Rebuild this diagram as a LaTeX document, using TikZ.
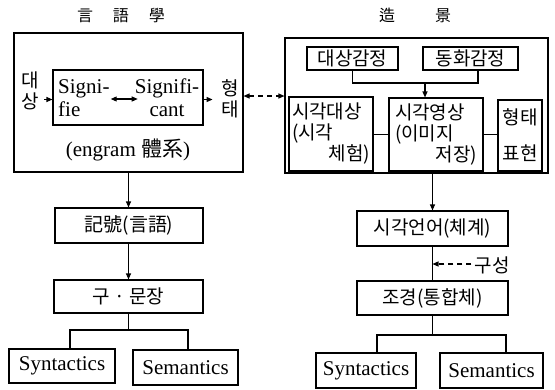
\documentclass[tikz,border=0pt]{standalone}
\usepackage{fontspec}
\setmainfont{Liberation Serif}
\newfontfamily\kr{Noto Sans CJK KR}
\usetikzlibrary{arrows.meta}

\tikzset{
  box/.style={draw, line width=1.1pt, inner sep=0pt},
  lat/.style={font=\fontsize{21}{23}\selectfont},
  kor/.style={font=\kr\fontsize{19}{21}\selectfont},
  ttl/.style={font=\kr\fontsize{16}{18}\selectfont},
  wire/.style={line width=1.1pt},
  arr/.style={wire, -{Triangle[length=6pt,width=5pt]}},
  darr/.style={wire, {Triangle[length=6pt,width=5pt]}-{Triangle[length=6pt,width=5pt]}},
  dash line/.style={wire, dash pattern=on 5pt off 4pt},
}

\begin{document}
\begin{tikzpicture}[x=1pt, y=-1pt]
\useasboundingbox (0,0) rectangle (555,389);

% ---------- left column: linguistics ----------
\node[ttl] (tL) at (121,15) {言\hspace{20pt}語\hspace{20pt}學};

\node[box, minimum width=229pt, minimum height=139pt] (Lout) at (128.5,102.5) {};
\node[box, minimum width=150pt, minimum height=55pt] (inner) at (128,97.5) {};
\node[lat, align=left, anchor=west, inner sep=0pt] (sigA) at (58,98) {Signi-\\fie};
\node[lat, align=center, inner sep=0pt] (sigB) at (167,98) {Signifi-\\cant};
\draw[darr] ([xshift=1pt,yshift=-1pt]sigA.east) -- ([xshift=3pt,yshift=-1pt]sigB.west);

\node[kor, align=center, inner sep=0pt] (dae) at (30,91) {대\\상};
\node[kor, align=center, inner sep=0pt] (hyeong) at (230,99) {형\\태};
\draw[arr] ([xshift=-8pt,yshift=-2pt]inner.west) -- ([yshift=-2pt]inner.west);
\draw[arr] ([yshift=-2pt]inner.east) -- ([xshift=9pt,yshift=-2pt]inner.east);

\node[lat, inner sep=0pt] (engram) at (128,150) {(engram {\kr 體系})};

\node[box, kor, minimum width=148pt, minimum height=35pt] (kiho) at (129,225.5) {記號(言語)};
\node[box, kor, minimum width=149pt, minimum height=33pt] (gu) at (128.5,296.5) {구 · 문장};
\draw[arr] (Lout.south) -- (Lout.south |- kiho.north);
\draw[arr] (kiho.south -| gu.north) -- (gu.north);

\node[box, lat, minimum width=106pt, minimum height=34pt] (synL) at (62,366) {Syntactics};
\node[box, lat, minimum width=105pt, minimum height=35pt] (semL) at (185.5,367.5) {Semantics};
\coordinate (tl) at (70,330);
\coordinate (tr) at (188,330);
\draw[wire] (gu.south) -- (gu.south |- tl);
\draw[wire] (synL.north -| tl) -- (tl) -- (tr) -- (tr |- semL.north);

% ---------- right column: landscape making ----------
\node[ttl] (tR) at (415,15) {造\hspace{40pt}景};

\node[box, minimum width=263pt, minimum height=135pt] (Rout) at (416.5,105.5) {};
\node[box, kor, minimum width=91pt, minimum height=23pt] (A) at (352.5,58.5) {대상감정};
\node[box, kor, minimum width=95pt, minimum height=23pt] (B) at (470.5,58.5) {동화감정};

\node[box, kor, minimum width=84pt, minimum height=74pt, text width=78pt, inner xsep=3pt, align=left] (C) at (331,134)
  {시각대상\\(시각\\\mbox{}\hfill 체험)};
\node[box, kor, minimum width=94pt, minimum height=73pt, text width=82pt, inner xsep=6pt, align=left] (D) at (436,134.5)
  {시각영상\\(이미지\\\mbox{}\hfill 저장)};
\node[box, kor, minimum width=44pt, minimum height=71pt, text width=38pt, inner xsep=3pt, align=center] (E) at (520,135.5)
  {형태\\[15pt]표현};

\coordinate (j) at (425,83);
\draw[wire] (A.south) -- (A.south |- j) -- ([xshift=7.5pt]B.south |- j) -- ([xshift=7.5pt]B.south);
\draw[arr] (j) -- (j |- D.north);
\draw[wire] (C.east |- D.east) -- (D.west);
\draw[wire] (D.east) -- (E.west |- D.east);

\coordinate (dm) at (265,96);
\draw[darr, dash pattern=on 5pt off 4pt] (dm -| Lout.east) -- (dm -| Rout.west);

\node[box, kor, minimum width=151pt, minimum height=35pt] (F) at (432.5,228.5) {시각언어(체계)};
\node[box, kor, minimum width=151pt, minimum height=34pt] (G) at (432.5,298) {조경(통합체)};
\draw[arr] (F.north |- Rout.south) -- (F.north);
\draw[wire] (F.south) -- (G.north);

\node[kor, inner sep=0pt] (gs) at (492,265) {구성};
\draw[dash line, -{Triangle[length=6pt,width=5pt]}] ([xshift=-3pt,yshift=1pt]gs.west) -- ([yshift=1pt]gs.west -| F.south);

\node[box, lat, minimum width=100pt, minimum height=35pt] (synR) at (366,370.5) {Syntactics};
\node[box, lat, minimum width=103pt, minimum height=35pt] (semR) at (491.5,370.5) {Semantics};
\coordinate (rl) at (377,335);
\coordinate (rr) at (506,335);
\draw[wire] (G.south) -- (G.south |- rl);
\draw[wire] (synR.north -| rl) -- (rl) -- (rr) -- (rr |- semR.north);
\end{tikzpicture}
\end{document}
